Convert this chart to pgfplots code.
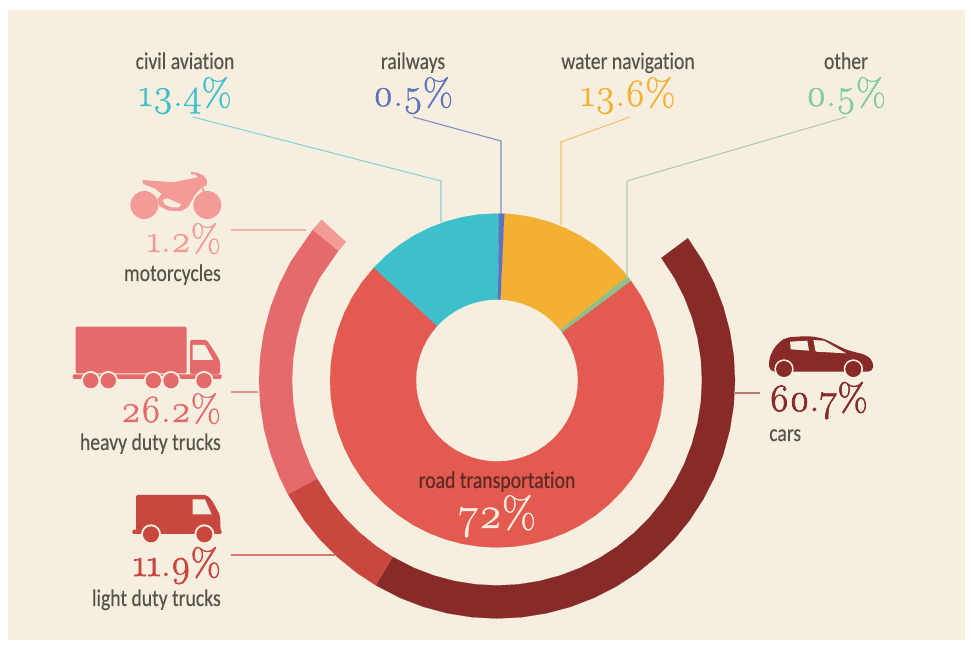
\documentclass[border=0pt]{standalone}
\usepackage{fontspec}
\usepackage{pgfplots}
\pgfplotsset{compat=1.18}
\newfontfamily\lab[FakeStretch=0.82,FakeBold=0.25,Ligatures=NoCommon]{Carlito}
\newfontfamily\numf[Numbers=OldStyle,FakeBold=0.9]{Latin Modern Roman}
\newfontfamily\numb[Numbers=OldStyle,FakeBold=1.8]{Latin Modern Roman}
\definecolor{cream}{HTML}{F6EFE0}
\definecolor{cCyan}{HTML}{3DBFCC}
\definecolor{cBlue}{HTML}{5E72BE}
\definecolor{cOrange}{HTML}{F4B033}
\definecolor{cGreen}{HTML}{8DC08A}
\definecolor{cMint}{HTML}{7ECBA1}
\definecolor{cRoad}{HTML}{E35B50}
\definecolor{cCars}{HTML}{872A28}
\definecolor{cLight}{HTML}{C8473F}
\definecolor{cHeavy}{HTML}{E56A6B}
\definecolor{cMoto}{HTML}{F39B96}
\definecolor{cText}{HTML}{55554C}
\newcommand{\LB}[1]{{\lab\fontsize{18}{20}\selectfont\color{cText}#1}}
\newcommand{\NM}[2]{{\numf\fontsize{29}{30}\selectfont\color{#1}#2}}
\newcommand{\NB}[2]{{\numb\fontsize{29}{30}\selectfont\color{#1}#2}}
\begin{document}
\begin{tikzpicture}
\begin{scope}[x=0.75pt,y=-0.75pt,yshift=484.5pt]
\fill[white] (0,0) rectangle (971,646);
\fill[cream] (8,10) rectangle (965,640);
\end{scope}
\begin{axis}[at={(0,0)},anchor=south west,scale only axis,width=728.25pt,height=484.5pt,
  xmin=-497,xmax=474,ymin=-265.5,ymax=380.5,hide axis,clip=false,axis equal=false]
% inner donut
\addplot[data cs=polar,fill=cRoad,draw=cRoad,line width=0.1pt] coordinates {
(36.7,167)(30,167)(24,167)(18,167)(12,167)(6,167)(0,167)(-6,167)(-12,167)(-18,167)(-24,167)(-30,167)(-36,167)(-42,167)(-48,167)(-54,167)(-60,167)(-66,167)(-72,167)(-78,167)(-84,167)(-90,167)(-96,167)(-102,167)(-108,167)(-114,167)(-120,167)(-126,167)(-132,167)(-138,167)(-144,167)(-150,167)(-156,167)(-162,167)(-168,167)(-174,167)(-180,167)(-186,167)(-192,167)(-198,167)(-204,167)(-210,167)(-216,167)(-222.5,167)
(-222.5,81)(-216,81)(-210,81)(-204,81)(-198,81)(-192,81)(-186,81)(-180,81)(-174,81)(-168,81)(-162,81)(-156,81)(-150,81)(-144,81)(-138,81)(-132,81)(-126,81)(-120,81)(-114,81)(-108,81)(-102,81)(-96,81)(-90,81)(-84,81)(-78,81)(-72,81)(-66,81)(-60,81)(-54,81)(-48,81)(-42,81)(-36,81)(-30,81)(-24,81)(-18,81)(-12,81)(-6,81)(0,81)(6,81)(12,81)(18,81)(24,81)(30,81)(36.7,81)} --cycle;
\addplot[data cs=polar,fill=cCyan,draw=cCyan,line width=0.1pt] coordinates {
(137.5,167)(132,167)(126,167)(120,167)(114,167)(108,167)(102,167)(96,167)(89.3,167)
(89.3,81)(96,81)(102,81)(108,81)(114,81)(120,81)(126,81)(132,81)(137.5,81)} --cycle;
\addplot[data cs=polar,fill=cOrange,draw=cOrange,line width=0.1pt] coordinates {
(87.5,167)(84,167)(78,167)(72,167)(66,167)(60,167)(54,167)(48,167)(42,167)(38.5,167)
(38.5,81)(42,81)(48,81)(54,81)(60,81)(66,81)(72,81)(78,81)(84,81)(87.5,81)} --cycle;
\addplot[data cs=polar,fill=cBlue,draw=cBlue,line width=0.1pt] coordinates {
(89.3,167)(87.5,167)(87.5,81)(89.3,81)} --cycle;
\addplot[data cs=polar,fill=cGreen,draw=cGreen,line width=0.1pt] coordinates {
(38.5,167)(36.7,167)(36.7,81)(38.5,81)} --cycle;
% outer ring
\addplot[data cs=polar,fill=cCars,draw=cCars,line width=0.1pt] coordinates {
(36.7,238)(30,238)(24,238)(18,238)(12,238)(6,238)(0,238)(-6,238)(-12,238)(-18,238)(-24,238)(-30,238)(-36,238)(-42,238)(-48,238)(-54,238)(-60,238)(-66,238)(-72,238)(-78,238)(-84,238)(-90,238)(-96,238)(-102,238)(-108,238)(-114,238)(-120.6,238)
(-120.6,205)(-114,205)(-108,205)(-102,205)(-96,205)(-90,205)(-84,205)(-78,205)(-72,205)(-66,205)(-60,205)(-54,205)(-48,205)(-42,205)(-36,205)(-30,205)(-24,205)(-18,205)(-12,205)(-6,205)(0,205)(6,205)(12,205)(18,205)(24,205)(30,205)(36.7,205)} --cycle;
\addplot[data cs=polar,fill=cLight,draw=cLight,line width=0.1pt] coordinates {
(-120.6,238)(-126,238)(-132,238)(-138,238)(-144,238)(-151.4,238)
(-151.4,205)(-144,205)(-138,205)(-132,205)(-126,205)(-120.6,205)} --cycle;
\addplot[data cs=polar,fill=cHeavy,draw=cHeavy,line width=0.1pt] coordinates {
(-151.4,238)(-156,238)(-162,238)(-168,238)(-174,238)(-180,238)(-186,238)(-192,238)(-198,238)(-204,238)(-210,238)(-219.3,238)
(-219.3,205)(-210,205)(-204,205)(-198,205)(-192,205)(-186,205)(-180,205)(-174,205)(-168,205)(-162,205)(-156,205)(-151.4,205)} --cycle;
\addplot[data cs=polar,fill=cMoto,draw=cMoto,line width=0.1pt] coordinates {
(-219.3,238)(-222.5,238)(-222.5,205)(-219.3,205)} --cycle;
\end{axis}
\begin{scope}[x=0.75pt,y=-0.75pt,yshift=484.5pt]
% leader lines
\draw[cCyan!60!cream,line width=0.8pt] (193,117)--(441,181)--(441,222);
\draw[cBlue!80!cream,line width=0.8pt] (413,117)--(501,141)--(501,214);
\draw[cOrange!70!cream,line width=0.8pt] (630,117)--(561,142)--(561,225);
\draw[cGreen!70!cream,line width=0.8pt] (846,117)--(627,181)--(627,278);
\draw[cMoto!70!cream,line width=0.8pt] (231,230)--(306,230);
\draw[cHeavy!70!cream,line width=0.8pt] (231,392)--(258,392);
\draw[cLight!70!cream,line width=0.8pt] (231,555)--(335,555);
\draw[cCars!60!cream,line width=0.8pt] (735,393)--(760,393);
% top labels
\node[anchor=base,inner sep=0] at (185,69) {\LB{civil aviation}};
\node[anchor=base,inner sep=0] at (185,106) {\NM{cCyan}{13.4\%}};
\node[anchor=base,inner sep=0] at (413,69) {\LB{railways}};
\node[anchor=base,inner sep=0] at (413,106) {\NM{cBlue}{0.5\%}};
\node[anchor=base,inner sep=0] at (628,69) {\LB{water navigation}};
\node[anchor=base,inner sep=0] at (628,106) {\NM{cOrange}{13.6\%}};
\node[anchor=base,inner sep=0] at (846,69) {\LB{other}};
\node[anchor=base,inner sep=0] at (846,106) {\NM{cMint}{0.5\%}};
% left labels
\node[anchor=base east,inner sep=0] at (221,252) {\NM{cMoto}{1.2\%}};
\node[anchor=base east,inner sep=0] at (221,281) {\LB{motorcycles}};
\node[anchor=base east,inner sep=0] at (221,422) {\NM{cHeavy}{26.2\%}};
\node[anchor=base east,inner sep=0] at (221,450) {\LB{heavy duty trucks}};
\node[anchor=base east,inner sep=0] at (221,576) {\NB{cLight}{11.9\%}};
\node[anchor=base east,inner sep=0] at (221,606) {\LB{light duty trucks}};
% right
\node[anchor=base west,inner sep=0] at (769,411) {\NB{cCars}{60.7\%}};
\node[anchor=base west,inner sep=0] at (769,441) {\LB{cars}};
% centre
\node[anchor=base,inner sep=0] at (497,488) {{\lab\fontsize{18}{20}\selectfont\color{cCars!70!black!80!cText}road transportation}};
\node[anchor=base,inner sep=0] at (497,528) {{\numf\fontsize{33}{34}\selectfont\color{cream}72\%}};
% motorcycle
\begin{scope}[shift={(60,160)},scale=0.33333]
\fill[cMoto] (253,135) circle[radius=42];
\fill[cMoto] (442,135) circle[radius=42];
\fill[cMoto] (247,60)--(340,67)--(412,52)--(408,44)--(393,43)--(393,36)--(412,38)--(430,46)--(441,60)--(440,76)--(425,82)--(405,105)--(385,140)--(365,153)--(325,152)--(298,138)--(292,118)--(305,102)--(285,86)--(250,72)--cycle;
\draw[cMoto,line width=1.4pt] (425,78)--(445,130);
\fill[cream] (308,120)--(322,115)--(364,133)--(356,142)--(335,142)--(315,134)--cycle;
\end{scope}
% heavy truck
\begin{scope}[shift={(60,310)},scale=0.33333]
\fill[cHeavy,rounded corners=1pt] (47,190)--(47,50)--(380,50)--(380,190)--cycle;
\fill[cHeavy,rounded corners=1pt] (390,192)--(390,90)--(440,90)--(470,135)--(480,155)--(480,192)--cycle;
\fill[cream] (398,105)--(435,105)--(460,150)--(398,150)--cycle;
\fill[cHeavy,rounded corners=1pt] (38,193) rectangle (485,207);
\foreach \x in {92,145,280,333,432}{\fill[cream] (\x,212) circle[radius=29];}
\foreach \x in {92,145,280,333,432}{\fill[cHeavy] (\x,212) circle[radius=23];}
\end{scope}
% van
\begin{scope}[shift={(80,480)},scale=0.33333]
\fill[cLight,rounded corners=1.5pt] (168,155)--(168,45)--(380,45)--(395,60)--(420,105)--(422,155)--cycle;
\fill[cLight,rounded corners=1pt] (157,149) rectangle (425,162);
\fill[cream] (338,58)--(375,58)--(395,103)--(338,103)--cycle;
\foreach \x in {213,373}{\fill[cream] (\x,163) circle[radius=30];\fill[cLight] (\x,163) circle[radius=24];}
\end{scope}
% car
\begin{scope}[shift={(720,320)},scale=0.33333]
\fill[cCars,rounded corners=4pt] (148,155)--(146,125)--(155,95)--(178,65)--(200,52)--(265,48)--(310,55)--(380,90)--(440,105)--(460,125)--(460,155)--cycle;
\fill[cream] (210,65)--(262,62)--(267,92)--(212,88)--cycle;
\fill[cream] (280,60)--(312,62)--(378,100)--(287,95)--cycle;
\foreach \x in {192,400}{\fill[cream] (\x,147) circle[radius=29];\fill[cCars] (\x,147) circle[radius=24];}
\end{scope}
\end{scope}
\end{tikzpicture}
\end{document}
